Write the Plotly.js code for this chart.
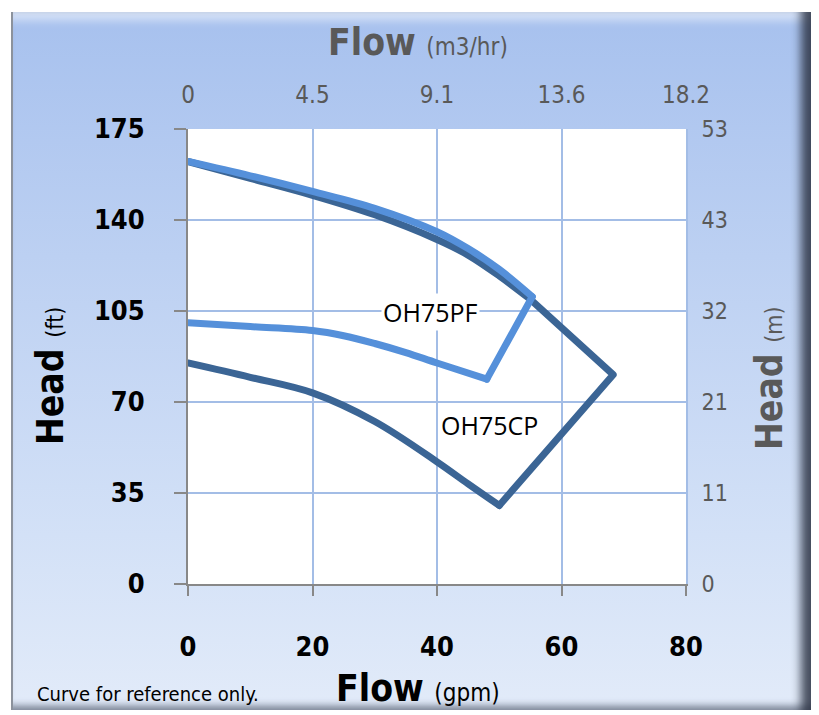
<!DOCTYPE html>
<html>
<head>
<meta charset="utf-8">
<script src="https://cdn.plot.ly/plotly-3.0.1.min.js"></script>
<style>
  html, body { margin:0; padding:0; background:#ffffff; }
  #wrap { position:relative; width:819px; height:715px; overflow:hidden; }
  #frame {
    position:absolute; left:11px; top:12px; width:798px; height:698px;
    background: linear-gradient(to bottom, #a7c1ee 0%, #bcd0f2 35%, #d3e1f7 75%, #e2ebf9 100%);
    border-left:2px solid #8c929c;
    box-shadow:
      inset -16px 0 10px -6px rgba(45,52,68,0.85),
      inset 0 16px 10px -8px rgba(255,255,255,0.55),
      inset 0 -10px 6px -5px rgba(70,80,100,0.55);
  }
  #plot { position:absolute; left:0; top:0; width:819px; height:715px; }
  #plot path.js-line { stroke-linejoin: round; stroke-linecap: round; }
</style>
</head>
<body>
<div id="wrap">
  <div id="frame"></div>
  <div id="plot"></div>
</div>
<script>
// OH75CP (dark): upper curve, straight edges via the right vertex to the bottom vertex, lower curve
const cpUpperFlow = [0, 10, 20, 30, 40, 45, 50, 55];
const cpUpperHead = [162.5, 156, 149.5, 142, 132.5, 126.5, 118.5, 109.5];
const cpEdgeFlow = [55, 68.3, 50];
const cpEdgeHead = [109.5, 80.5, 30.2];
const cpLowerFlow = [50, 45, 40, 30, 20, 10, 0];
const cpLowerHead = [30.2, 38.5, 47, 62.5, 73.5, 79.5, 85];

// OH75PF (light): upper curve to the tip, straight edge down, lower curve
const pfUpperFlow = [0, 10, 20, 30, 40, 45, 50, 55.3];
const pfUpperHead = [162.5, 157, 151, 144.5, 135.5, 129, 121, 110.5];
const pfEdgeFlow = [55.3, 48];
const pfEdgeHead = [110.5, 78.8];
const pfLowerFlow = [48, 40, 35, 30, 25, 20, 10, 0];
const pfLowerHead = [78.8, 85, 89, 92.5, 95.5, 97.5, 99, 100.5];

const gpmTicks = [0, 20, 40, 60, 80];
const m3hrLabels = ['0', '4.5', '9.1', '13.6', '18.2'];
const ftTicks = [0, 35, 70, 105, 140, 175];
const mLabels = ['0', '11', '21', '32', '43', '53'];

const FONT = "'DejaVu Sans Condensed', 'Liberation Sans', sans-serif";
const LBLFONT = "'Open Sans', 'DejaVu Sans', sans-serif";
const GRID = '#a3bde6';
const GRAY = '#595959';
const DARK = '#3b6595';
const LIGHT = '#5590da';

function seg(x, y, color, shape) {
  return { x: x, y: y, type: 'scatter', mode: 'lines', hoverinfo: 'skip', showlegend: false,
           line: { color: color, width: 7, shape: shape, smoothing: 1 } };
}

const traces = [
  seg(cpUpperFlow, cpUpperHead, DARK, 'spline'),
  seg(cpEdgeFlow, cpEdgeHead, DARK, 'linear'),
  seg(cpLowerFlow, cpLowerHead, DARK, 'spline'),
  seg(pfUpperFlow, pfUpperHead, LIGHT, 'spline'),
  seg(pfEdgeFlow, pfEdgeHead, LIGHT, 'linear'),
  seg(pfLowerFlow, pfLowerHead, LIGHT, 'spline'),
  // invisible trace to activate the secondary (metric) axes
  { x: gpmTicks, y: ftTicks.slice(0, 5), xaxis: 'x2', yaxis: 'y2', type: 'scatter', mode: 'markers',
    marker: { opacity: 0 }, hoverinfo: 'skip', showlegend: false }
];

const layout = {
  width: 819, height: 715,
  margin: { l: 188, r: 133, t: 129, b: 131 },
  paper_bgcolor: 'rgba(0,0,0,0)',
  plot_bgcolor: '#ffffff',
  showlegend: false,
  font: { family: FONT, color: '#000' },
  xaxis: {
    range: [0, 80], tickvals: gpmTicks, showgrid: true, gridcolor: GRID, gridwidth: 2,
    zeroline: false, showline: true, linecolor: '#888888', linewidth: 2,
    ticks: 'outside', ticklen: 10, tickwidth: 2, tickcolor: '#888888',
    ticklabelstandoff: 28,
    tickfont: { family: FONT, size: 27, weight: 'bold', color: '#000' }, fixedrange: true
  },
  yaxis: {
    range: [0, 175], tickvals: ftTicks, showgrid: true, gridcolor: GRID, gridwidth: 2,
    zeroline: false, showline: true, linecolor: '#888888', linewidth: 2,
    ticks: 'outside', ticklen: 12, tickwidth: 2, tickcolor: '#888888',
    ticklabelstandoff: 24,
    tickfont: { family: FONT, size: 27, weight: 'bold', color: '#000' }, fixedrange: true
  },
  xaxis2: {
    overlaying: 'x', side: 'top', range: [0, 80], tickvals: gpmTicks, ticktext: m3hrLabels,
    showgrid: false, zeroline: false, showline: false, ticks: '', ticklabelstandoff: 20,
    tickfont: { family: FONT, size: 24, color: GRAY }, fixedrange: true
  },
  yaxis2: {
    overlaying: 'y', side: 'right', range: [0, 175], tickvals: ftTicks, ticktext: mLabels,
    showgrid: false, zeroline: false, showline: true, linecolor: GRID, linewidth: 2,
    ticks: '', ticklabelstandoff: 9,
    tickfont: { family: FONT, size: 23, color: GRAY }, fixedrange: true
  },
  annotations: [
    { text: 'OH75PF', x: 39, y: 104.6, xref: 'x', yref: 'y', showarrow: false,
      bgcolor: '#ffffff', font: { family: LBLFONT, size: 25, color: '#000' } },
    { text: 'OH75CP', x: 48.4, y: 61.2, xref: 'x', yref: 'y', showarrow: false,
      font: { family: LBLFONT, size: 25, color: '#000' } },
    { text: "<b>Flow</b> <span style='font-size:24px'>(m3/hr)</span>", x: 0.462, y: 1.191,
      xref: 'paper', yref: 'paper', showarrow: false, xanchor: 'center', yanchor: 'middle',
      font: { family: FONT, size: 37, color: GRAY } },
    { text: "<b>Flow</b> <span style='font-size:24px'>(gpm)</span>", x: 0.462, y: -0.2286,
      xref: 'paper', yref: 'paper', showarrow: false, xanchor: 'center', yanchor: 'middle',
      font: { family: FONT, size: 37, color: '#000' } },
    { text: "<b>Head</b> <span style='font-size:23px'>(ft)</span>", x: -0.277, y: 0.457,
      xref: 'paper', yref: 'paper', showarrow: false, textangle: -90, xanchor: 'center', yanchor: 'middle',
      font: { family: FONT, size: 37, color: '#000' } },
    { text: "<b>Head</b> <span style='font-size:23px'>(m)</span>", x: 1.169, y: 0.453,
      xref: 'paper', yref: 'paper', showarrow: false, textangle: -90, xanchor: 'center', yanchor: 'middle',
      font: { family: FONT, size: 37, color: GRAY } },
    { text: 'Curve for reference only.', x: (35 - 188) / 498, y: (584 - 694) / 455,
      xref: 'paper', yref: 'paper', showarrow: false, xanchor: 'left', yanchor: 'middle',
      font: { family: FONT, size: 20, color: '#000' } }
  ]
};

Plotly.newPlot('plot', traces, layout, { displayModeBar: false, staticPlot: true });
</script>
</body>
</html>
